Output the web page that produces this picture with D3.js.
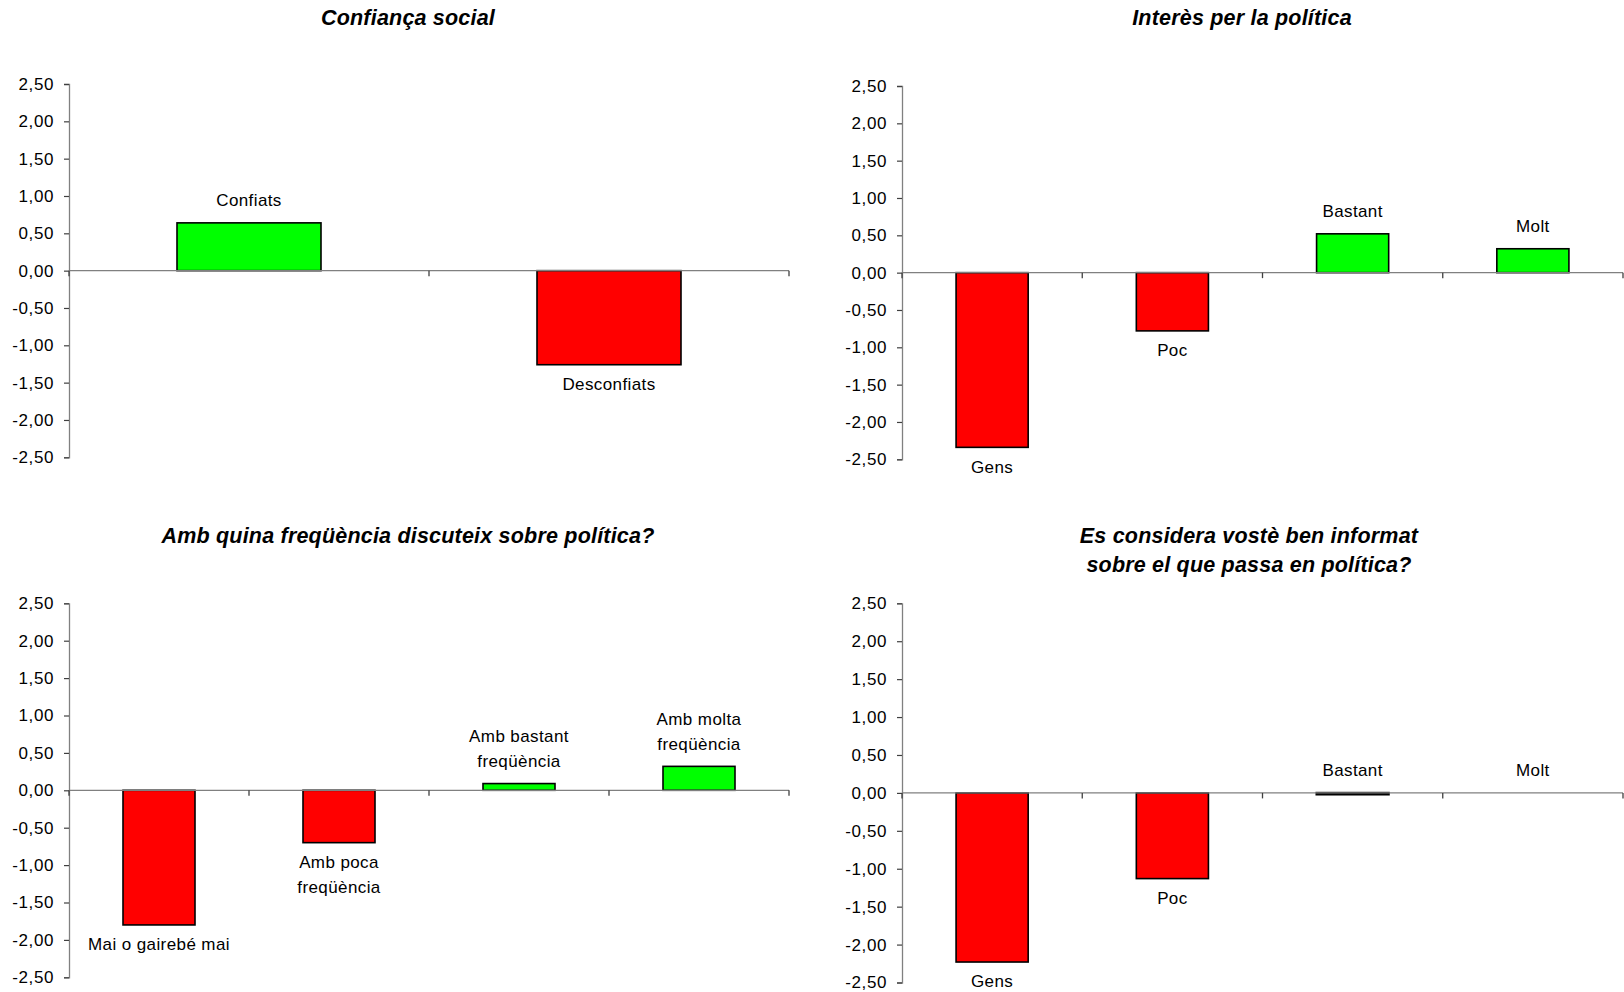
<!DOCTYPE html>
<html>
<head>
<meta charset="utf-8">
<script src="https://cdn.jsdelivr.net/npm/d3@7"></script>
<style>
  html, body { margin: 0; padding: 0; background: #ffffff; }
  svg { display: block; }
  text { font-family: "Liberation Sans", Arial, sans-serif; fill: #000; }
</style>
</head>
<body>
<svg id="chart" width="1624" height="992"></svg>
<script>
// ---- Data ----
const yTickValues = [2.5, 2.0, 1.5, 1.0, 0.5, 0.0, -0.5, -1.0, -1.5, -2.0, -2.5];

const confiancaTitle = ["Confiança social"];
const confiancaCategories = [["Confiats"], ["Desconfiats"]];
const confiancaValues = [0.64, -1.26];

const interesTitle = ["Interès per la política"];
const interesCategories = [["Gens"], ["Poc"], ["Bastant"], ["Molt"]];
const interesValues = [-2.34, -0.78, 0.52, 0.32];

const discuteixTitle = ["Amb quina freqüència discuteix sobre política?"];
const discuteixCategories = [["Mai o gairebé mai"], ["Amb poca", "freqüència"], ["Amb bastant", "freqüència"], ["Amb molta", "freqüència"]];
const discuteixValues = [-1.80, -0.70, 0.09, 0.32];

const informatTitle = ["Es considera vostè ben informat", "sobre el que passa en política?"];
const informatCategories = [["Gens"], ["Poc"], ["Bastant"], ["Molt"]];
const informatValues = [-2.23, -1.13, -0.02, 0.00];

// ---- Layout ----
const panels = [
  { title: confiancaTitle, cats: confiancaCategories, vals: confiancaValues,
    x0: 69, x1: 789, yTop: 84, yBot: 457.3, titleX: 408, titleY: 25 },
  { title: interesTitle, cats: interesCategories, vals: interesValues,
    x0: 902, x1: 1623, yTop: 86, yBot: 459.3, titleX: 1242, titleY: 25 },
  { title: discuteixTitle, cats: discuteixCategories, vals: discuteixValues,
    x0: 69, x1: 789, yTop: 603.3, yBot: 977.3, titleX: 408, titleY: 543.3 },
  { title: informatTitle, cats: informatCategories, vals: informatValues,
    x0: 902, x1: 1623, yTop: 603.3, yBot: 982.5, titleX: 1249, titleY: 543.3 }
];

const fmt = v => d3.format(".2f")(v).replace(".", ",").replace("−", "-");
const svg = d3.select("#chart");
const GREEN = "#00ff00", RED = "#ff0000";

panels.forEach(p => {
  const g = svg.append("g");
  const y = d3.scaleLinear().domain([-2.5, 2.5]).range([p.yBot, p.yTop]);
  const x = d3.scaleBand().domain(d3.range(p.vals.length)).range([p.x0, p.x1]).padding(0);
  const bw = x.bandwidth() * 0.4;

  // title
  const t = g.append("text")
    .attr("x", p.titleX).attr("y", p.titleY)
    .attr("text-anchor", "middle")
    .style("font-size", "21.5px").style("font-weight", "bold").style("font-style", "italic")
    .style("letter-spacing", "0.2px");
  p.title.forEach((line, i) => {
    t.append("tspan").attr("x", p.titleX).attr("dy", i === 0 ? 0 : 28.5).text(line);
  });

  // y axis
  const yAxis = d3.axisLeft(y).tickValues(yTickValues).tickSize(5).tickPadding(10).tickFormat(fmt);
  const ya = g.append("g").attr("transform", `translate(${p.x0},0)`).call(yAxis);
  ya.select(".domain").attr("stroke", "#808080").attr("stroke-width", 1.3);
  ya.selectAll(".tick line").attr("stroke", "#404040").attr("stroke-width", 1.2);
  ya.selectAll(".tick text")
    .style("font-size", "17px").style("font-family", "'Liberation Sans', Arial, sans-serif")
    .style("letter-spacing", "0.6px")
    .attr("fill", "#000");

  // bars
  g.selectAll("rect.bar").data(p.vals).enter().append("rect")
    .attr("class", "bar")
    .attr("x", (d, i) => x(i) + (x.bandwidth() - bw) / 2)
    .attr("width", bw)
    .attr("y", d => y(Math.max(0, d)))
    .attr("height", d => Math.max(Math.abs(y(d) - y(0)), 0.01))
    .attr("fill", d => d >= 0 ? GREEN : RED)
    .attr("stroke", "#000").attr("stroke-width", d => Math.abs(d) < 0.001 ? 0 : (Math.abs(d) < 0.05 ? 2.2 : 1.6));

  // zero (category) axis
  const z = y(0);
  g.append("line").attr("x1", p.x0).attr("x2", p.x1).attr("y1", z).attr("y2", z)
    .attr("stroke", "#808080").attr("stroke-width", 1.3);
  const bounds = d3.range(p.vals.length + 1).map(i => i < p.vals.length ? x(i) : p.x1);
  g.selectAll("line.xt").data(bounds).enter().append("line")
    .attr("class", "xt")
    .attr("x1", d => d).attr("x2", d => d)
    .attr("y1", z).attr("y2", z + 5.5)
    .attr("stroke", "#404040").attr("stroke-width", 1.3);

  // category labels
  p.vals.forEach((v, i) => {
    const cx = x(i) + x.bandwidth() / 2;
    const lines = p.cats[i];
    const lh = 25;
    const above = v > -0.05;
    let firstCenter;
    if (above) {
      const top = y(Math.max(0, v));
      firstCenter = top - 22.5 - (lines.length - 1) * lh;
    } else {
      firstCenter = y(v) + 19.5;
    }
    lines.forEach((ln, k) => {
      g.append("text")
        .attr("x", cx).attr("y", firstCenter + k * lh)
        .attr("dy", "0.35em")
        .attr("text-anchor", "middle")
        .style("font-size", "17px")
        .style("letter-spacing", "0.4px")
        .text(ln);
    });
  });
});
</script>
</body>
</html>
